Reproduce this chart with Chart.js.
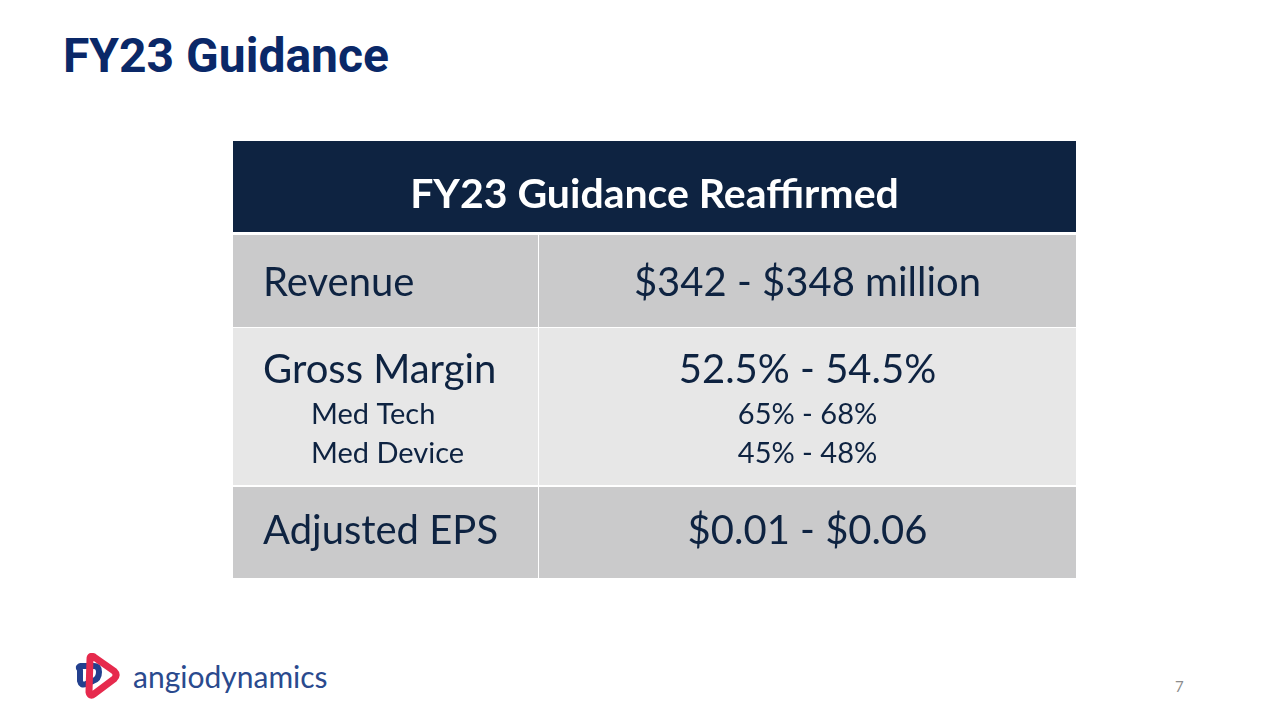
<!DOCTYPE html>
<html>
<head>
<meta charset="utf-8">
<script src="https://cdn.jsdelivr.net/npm/chart.js@4.4.0/dist/chart.umd.min.js"></script>
<style>
  html, body { margin: 0; padding: 0; background: #fff; }
  body { width: 1280px; height: 720px; position: relative; overflow: hidden; font-family: Lato, sans-serif; }
  #title { position: absolute; left: 63px; top: 28px; margin: 0; font-family: Roboto, sans-serif; font-weight: 700; font-size: 48px; line-height: 56px; color: #0a2868; }
  #tableWrap { position: absolute; left: 233px; top: 141px; width: 843px; height: 437px; }
  #logo { position: absolute; left: 72px; top: 653px; }
  #brand { position: absolute; left: 133px; top: 658px; font-family: Lato, sans-serif; font-size: 30px; color: #2a4a8e; }
  #page { position: absolute; left: 1175px; top: 677px; font-family: Lato, sans-serif; font-size: 15px; color: #8c8c8c; }
</style>
</head>
<body>
<h1 id="title">FY23 Guidance</h1>
<div id="tableWrap"><canvas id="guidanceTable"></canvas></div>

<svg id="logo" width="50" height="46" viewBox="0 0 50 46">
  <path d="M8 17 Q5 14 9 13 L22 13 Q27 13 27 19 Q27 26 21 28 L14 31 Q9 33 8 28 Z" fill="none" stroke="#23408e" stroke-width="6" stroke-linejoin="round"/>
  <path d="M18 6 Q18 2 22 4 L42 18 Q46 22 42 26 L22 41 Q18 44 17 39 Z" fill="none" stroke="#e62a4d" stroke-width="7" stroke-linejoin="round"/>
</svg>
<div id="brand">angiodynamics</div>
<div id="page">7</div>

<script>
// table geometry in table units (1 unit ~ 1px of the slide)
const tableWidth = 843;
const tableHeight = 437;
const colStart = [0, 306];
const colEnd = [305, 843];
const rowStart = [0, 94, 187, 346];
const rowEnd = [91, 186, 344, 437];

// content
const headerText = "FY23 Guidance Reaffirmed";
const rowLabels = ["Revenue", "Gross Margin", "Adjusted EPS"];
const rowValues = ["$342 - $348 million", "52.5% - 54.5%", "$0.01 - $0.06"];
const subLabels = ["Med Tech", "Med Device"];
const subValues = ["65% - 68%", "45% - 48%"];

const headerColor = "#0e2341";
const rowColors = ["#cacacb", "#e7e7e7", "#cacacb"];
const textColor = "#0e2341";

// one filled line per cell: top edge drawn, filled down to bottom edge
function cell(x0, x1, y0, y1, color) {
  return {
    type: "line",
    data: [{ x: x0, y: y0 }, { x: x1, y: y0 }],
    fill: { value: y1 },
    backgroundColor: color,
    borderWidth: 0,
    pointRadius: 0
  };
}

const datasets = [cell(colStart[0], colEnd[1], rowStart[0], rowEnd[0], headerColor)];
rowLabels.forEach((_, i) => {
  const r = i + 1;
  datasets.push(cell(colStart[0], colEnd[0], rowStart[r], rowEnd[r], rowColors[i]));
  datasets.push(cell(colStart[1], colEnd[1], rowStart[r], rowEnd[r], rowColors[i]));
});

const cellText = {
  id: "cellText",
  afterDatasetsDraw(chart) {
    const { ctx, scales: { x, y } } = chart;
    const labelX = x.getPixelForValue(colStart[0] + 30);
    const subX = x.getPixelForValue(colStart[0] + 78);
    const valueX = x.getPixelForValue((colStart[1] + colEnd[1]) / 2);
    ctx.save();
    ctx.textBaseline = "alphabetic";

    // header
    ctx.fillStyle = "#ffffff";
    ctx.textAlign = "center";
    ctx.font = "bold 41px Lato";
    ctx.fillText(headerText, x.getPixelForValue(tableWidth / 2), y.getPixelForValue(rowStart[0] + 67));

    // main rows
    const baseOffsets = [61, 55, 57];
    ctx.fillStyle = textColor;
    rowLabels.forEach((label, i) => {
      const by = y.getPixelForValue(rowStart[i + 1] + baseOffsets[i]);
      ctx.font = "40px Lato";
      ctx.textAlign = "left";
      ctx.fillText(label, labelX, by);
      ctx.textAlign = "center";
      ctx.fillText(rowValues[i], valueX, by);
    });

    // gross margin breakdown
    ctx.font = "29px Lato";
    subLabels.forEach((label, j) => {
      const by = y.getPixelForValue(rowStart[2] + 96 + j * 39);
      ctx.textAlign = "left";
      ctx.fillText(label, subX, by);
      ctx.textAlign = "center";
      ctx.fillText(subValues[j], valueX, by);
    });
    ctx.restore();
  }
};

new Chart(document.getElementById("guidanceTable"), {
  type: "line",
  data: { datasets },
  options: {
    responsive: true,
    maintainAspectRatio: false,
    animation: false,
    layout: { padding: 0 },
    scales: {
      x: { type: "linear", min: 0, max: tableWidth, display: false },
      y: { type: "linear", min: 0, max: tableHeight, reverse: true, display: false }
    },
    plugins: { legend: { display: false }, tooltip: { enabled: false } }
  },
  plugins: [cellText]
});
</script>
</body>
</html>
